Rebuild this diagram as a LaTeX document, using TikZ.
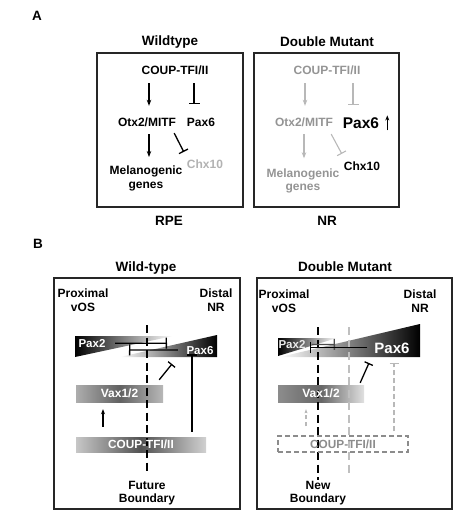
\documentclass[tikz,border=0pt]{standalone}
\usepackage{fontspec}
\setmainfont{Liberation Sans}
\usepackage{tikz}
\usetikzlibrary{arrows.meta, positioning}

\begin{document}
\begin{tikzpicture}[x=1pt, y=-1pt,
    lbl/.style={font=\bfseries\fontsize{12}{13.5}\selectfont, inner sep=0pt, anchor=base},
    lblm/.style={font=\bfseries\fontsize{12}{13.5}\selectfont, inner sep=0pt, anchor=north, align=center},
    ttl/.style={font=\bfseries\fontsize{13.5}{15}\selectfont, inner sep=0pt, anchor=base},
    smallgene/.style={font=\bfseries\fontsize{11.5}{13}\selectfont},
    biggene/.style={font=\bfseries\fontsize{15.5}{17}\selectfont},
    panel/.style={draw=black!85, line width=1.5pt},
    act/.style={-{Stealth[length=6pt, width=4.5pt]}, line width=1.3pt},
    inh/.style={-{Bar[width=11pt]}, line width=1.3pt},
    lost/.style={black!28, line width=1.1pt},
    band/.style={font=\bfseries\fontsize{12}{13.5}\selectfont, text=white, inner sep=0pt},
    bnd/.style={line width=2.6pt, dash pattern=on 8pt off 4.5pt}]
    \useasboundingbox (0,0) rectangle (458,520);

    % A. Wildtype / RPE
    \node[ttl] (labA) at (37,20) {A};
    \node[ttl] (wtA) at (170,45.5) {Wildtype};
    \draw[panel] (97,53) rectangle (243,207);
    \node[lbl] (coupW) at (175,74) {COUP-TFI/II};
    \node[lbl] (otxW) at (147,126.7) {Otx2/MITF};
    \node[lbl] (paxW) at (201,126.7) {Pax6};
    \node[lblm] (melW) at (146,166) {Melanogenic\\genes};
    \node[lbl, text=black!30] (chxW) at (205,168.3) {Chx10};
    \node[ttl] (rpeA) at (169,225) {RPE};

    \draw[act, shorten <=9pt, shorten >=12pt] ([xshift=2pt]otxW.north |- coupW.south) -- ([xshift=2pt]otxW.north);
    \draw[inh, shorten <=9pt, shorten >=14pt] ([xshift=-7pt]paxW.north |- coupW.south) -- ([xshift=-7pt]paxW.north);
    \draw[act, shorten <=7pt, shorten >=9pt] ([xshift=2pt]otxW.south) -- ([xshift=2pt]otxW.south |- melW.north);
    \draw[inh, -{Bar[width=10pt]}] ([shift={(-2,6)}]otxW.south east) -- ([shift={(-3,-7.5)}]chxW.north west);

    % A. Double mutant / NR
    \node[ttl] (dmA) at (327,46.5) {Double Mutant};
    \draw[panel] (254,53) rectangle (399,207);
    \node[lbl, text=black!42] (coupM) at (327,74) {COUP-TFI/II};
    \node[lbl, text=black!42] (otxM) at (304,126.7) {Otx2/MITF};
    \node[lbl, biggene] (paxM) at (361,128.3) {Pax6};
    \node[lbl] (chxM) at (362,170) {Chx10};
    \node[lblm, text=black!42] (melM) at (303,168.3) {Melanogenic\\genes};
    \node[ttl] (nrA) at (327,225) {NR};

    \draw[act, -{Stealth[length=5pt, width=4pt]}] ([shift={(8,7.5)}]paxM.east) -- ([shift={(8,-7.5)}]paxM.east);
    \draw[act, lost, shorten <=9pt, shorten >=12pt] ([xshift=1pt]otxM.north |- coupM.south) -- ([xshift=1pt]otxM.north);
    \draw[inh, lost, shorten <=9pt, shorten >=12pt] ([xshift=-8pt]paxM.north |- coupM.south) -- ([xshift=-8pt]paxM.north);
    \draw[act, lost, shorten <=7pt, shorten >=10pt] (otxM.south) -- (otxM.south |- melM.north);
    \draw[inh, lost, -{Bar[width=10pt]}] ([shift={(-2,7)}]otxM.south east) -- ([shift={(-2,-7.3)}]chxM.north west);

    % B. Wild-type
    \node[ttl] (labB) at (38,248) {B};
    \node[ttl] (wtB) at (146,271.4) {Wild-type};
    \draw[panel] (54,278) rectangle (240,509);
    \node[lblm] (proxW) at (83,289) {Proximal\\vOS};
    \node[lblm] (distW) at (216,289) {Distal\\NR};

    % gradients first, boundary over them, text on top
    \shade[left color=white, right color=black] (120,357) -- (217,357) -- (217,335) -- cycle;
    \shade[left color=black, right color=white] (75,336) -- (75,357) -- (173,336) -- cycle;
    \shade[left color=black!32, right color=black!28, middle color=black!62] (76,385) rectangle (163,402);
    \shade[left color=black!22, right color=black!18, middle color=black!68] (76,437) rectangle (206,452);

    \coordinate (tipW) at (147,325);
    \node[lblm] (futW) at (147,480.7) {Future\\Boundary};
    \draw[bnd] (tipW) -- ([yshift=7pt]futW.north);

    \node[lbl, smallgene, text=white] (pax2W) at (92,347.3) {Pax2};
    \node[lbl, smallgene, text=white] (pax6W) at (200,354) {Pax6};
    \node[band, minimum width=87pt, minimum height=17pt] (vaxW) at (119.5,393.5) {Vax1/2};
    \node[band, font=\bfseries\fontsize{11.8}{13}\selectfont, minimum width=130pt, minimum height=15pt] (coupBW) at (141,444.5) {COUP-TFI/II};

    \coordinate (p2barW) at (167,343.2);
    \coordinate (p6barW) at (129,349.9);
    \coordinate (vbarW) at (172,364);
    \draw[inh, shorten <=9.5pt] (pax2W.east) -- (p2barW);
    \draw[inh, shorten <=8.5pt] (pax6W.west) -- (p6barW);
    \draw[inh, -{Bar[width=9pt]}] ([shift={(-4,-5)}]vaxW.north east) -- (vbarW);
    \draw[act, -{Stealth[length=5pt, width=4pt]}, shorten <=10pt, shorten >=7pt] ([xshift=-16.5pt]vaxW.south |- coupBW.north) -- ([xshift=-16.5pt]vaxW.south);
    \draw[inh, -{Bar[width=10pt]}, shorten <=5pt] ([xshift=51pt]coupBW.north) -- ([xshift=51pt]coupBW.north |- pax6W.south);

    % B. Double mutant
    \node[ttl] (dmB) at (345,271.5) {Double Mutant};
    \draw[panel] (257,278) rectangle (452,509);
    \node[lblm] (proxM) at (284,290) {Proximal\\vOS};
    \node[lblm] (distM) at (420,290) {Distal\\NR};

    \shade[left color=white, right color=black] (280,357) -- (420,357) -- (420,324) -- cycle;
    \shade[left color=black, right color=white] (278,338) -- (278,356) -- (337,338) -- cycle;
    \shade[left color=black!45, right color=black!12, middle color=black!60] (278,385) rectangle (364,402);

    \coordinate (gtopM) at (349,327);
    \coordinate (gbotM) at (349,473);
    \draw[bnd, black!25, line width=2pt] (gtopM) -- (gbotM);
    \coordinate (tipM) at (318,327);
    \node[lblm] (newM) at (318,480.7) {New\\Boundary};
    \draw[bnd] (tipM) -- ([yshift=1pt]newM.north);

    \node[lbl, smallgene, text=black!8] (pax2M) at (292,348.5) {Pax2};
    \node[lbl, font=\bfseries\fontsize{15}{17}\selectfont, text=white] (pax6M) at (392,353) {Pax6};
    \node[band, minimum width=86pt, minimum height=17pt] (vaxM) at (321,393.5) {Vax1/2};
    \node[band, font=\bfseries\fontsize{11.8}{13}\selectfont, draw=black!45, line width=1.3pt, dash pattern=on 5pt off 3pt, text=black!45, minimum width=130pt, minimum height=16pt] (coupBM) at (343,444) {COUP-TFI/II};

    \coordinate (p2barM) at (335,344.4);
    \coordinate (p6barM) at (310,349);
    \coordinate (vbarM) at (369,363);
    \draw[inh, black!70, shorten <=6pt] (pax2M.east) -- (p2barM);
    \draw[inh] ([xshift=-7pt]pax6M.west) -- (pax6M.west -| p6barM);
    \draw[inh, -{Bar[width=9pt]}] ([shift={(-4,-2)}]vaxM.north east) -- (vbarM);
    \draw[act, lost, dash pattern=on 4pt off 3pt, -{Stealth[length=4pt, width=3pt]}, shorten <=9pt, shorten >=7pt] ([xshift=-15pt]vaxM.south |- coupBM.north) -- ([xshift=-15pt]vaxM.south);
    \draw[inh, lost, dash pattern=on 5pt off 3pt, -{Bar[width=9pt]}, shorten <=4pt] ([xshift=51pt]coupBM.north) -- ([xshift=51pt]coupBM.north |- vbarM);
\end{tikzpicture}
\end{document}
